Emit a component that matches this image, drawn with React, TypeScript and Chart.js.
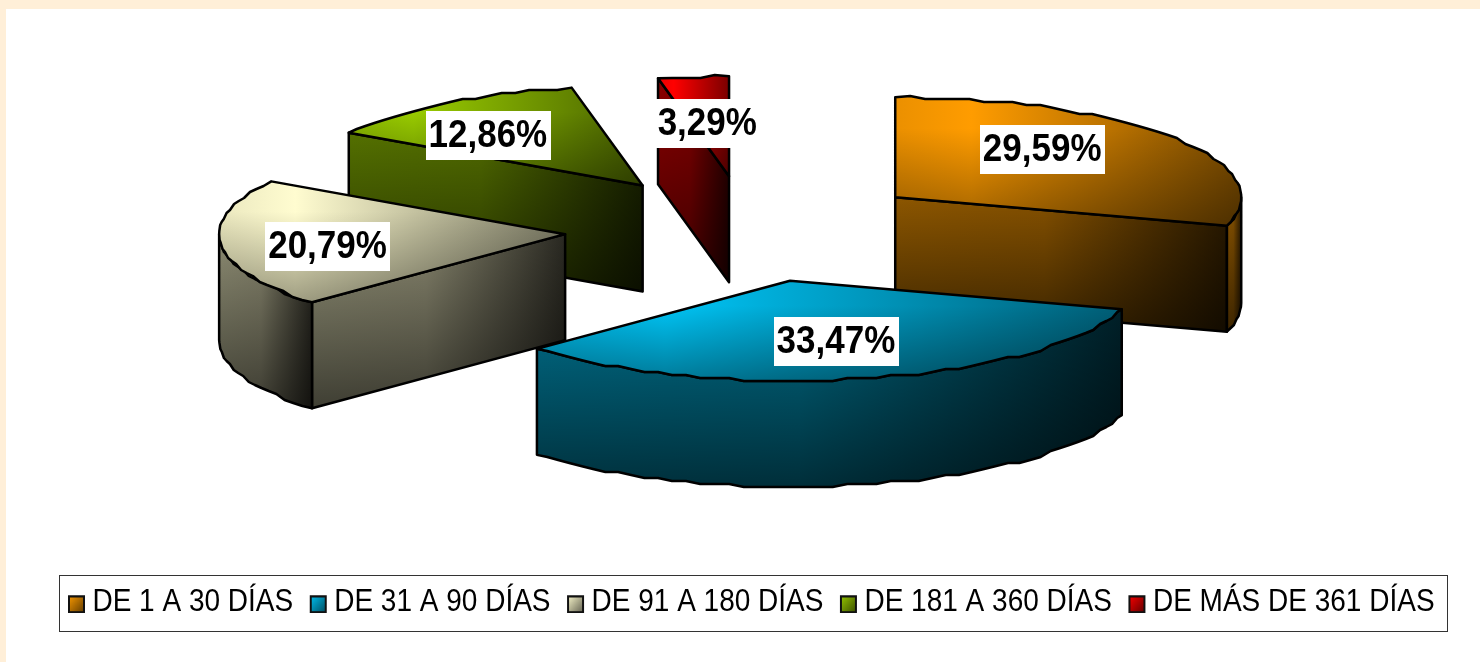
import React, { useEffect, useRef } from "react";
import { Chart, registerables } from "chart.js";

Chart.register(...registerables);

const categories = ["DE 1 A 30 DÍAS", "DE 31 A 90 DÍAS", "DE 91 A 180 DÍAS", "DE 181 A 360 DÍAS", "DE MÁS DE 361 DÍAS"];
const shares = [29.59, 33.47, 20.79, 12.86, 3.29];
const shareLabels = ["29,59%", "33,47%", "20,79%", "12,86%", "3,29%"];
const baseColors: number[][] = [
  [255, 156, 0],
  [0, 196, 245],
  [255, 252, 208],
  [153, 204, 0],
  [255, 0, 0],
];
// Where each label sits along its slice's middle radius (horizontal, vertical reach).
const labelReach: number[][] = [
  [0.53, 0.8],
  [0.58, 0.62],
  [0.69, 1.25],
  [0.78, 0.61],
  [0.61, 0.53],
];

const PIE_RADIUS = 346;
const SQUASH = 100 / 346;
const DEPTH = 106;
const EXPLODE = 0.531;
const PIE_CENTER_X = 748;
const PIE_CENTER_Y = 229;
const LEGEND_STRETCH = 1.14;
const LABEL_STRETCH = 1.1;
const FONT = '"Liberation Sans", Arial, sans-serif';

type Pt = { x: number; y: number };
type Stops = number[][];

const shade = (rgb: number[], f: number) =>
  `rgb(${rgb.map((c) => Math.round(c * f)).join(",")})`;

function tracePath(ctx: CanvasRenderingContext2D, pts: Pt[]) {
  ctx.beginPath();
  pts.forEach((p, i) => (i ? ctx.lineTo(p.x, p.y) : ctx.moveTo(p.x, p.y)));
  ctx.closePath();
}

function paintFace(
  ctx: CanvasRenderingContext2D,
  pts: Pt[],
  rgb: number[],
  hStops: Stops,
  vStops: Stops
) {
  const xs = pts.map((p) => p.x);
  const ys = pts.map((p) => p.y);
  const x0 = Math.min(...xs), x1 = Math.max(...xs);
  const y0 = Math.min(...ys), y1 = Math.max(...ys);
  const h = ctx.createLinearGradient(x0, 0, x1, 0);
  hStops.forEach(([pos, f]) => h.addColorStop(pos, shade(rgb, f)));
  tracePath(ctx, pts);
  ctx.fillStyle = h;
  ctx.fill();
  const v = ctx.createLinearGradient(0, y0, 0, y1);
  vStops.forEach(([pos, a]) => v.addColorStop(pos, `rgba(0,0,0,${a})`));
  ctx.fillStyle = v;
  ctx.fill();
  ctx.strokeStyle = "#000";
  ctx.lineWidth = 2.5;
  ctx.lineJoin = "round";
  ctx.stroke();
}

const TOP_H: Stops = [[0, 0.92], [0.22, 1], [1, 0.48]];
const TOP_V: Stops = [[0, 0], [0.25, 0], [1, 0.38]];
const WALL_H: Stops = [[0, 0.55], [0.45, 0.52], [1, 0.16]];
const WALL_V: Stops = [[0, 0], [1, 0.55]];

function arcPoints(cx: number, cy: number, r: number, a0: number, a1: number): Pt[] {
  // Slightly stepped outline: the reference's rim is visibly not a smooth curve.
  const pts: Pt[] = [];
  const step = (2.5 * Math.PI) / 180;
  const n = Math.max(1, Math.ceil((a1 - a0) / step));
  for (let i = 0; i <= n; i++) {
    const t = a0 + ((a1 - a0) * i) / n;
    const x = cx + r * Math.cos(t);
    const y = cy + r * SQUASH * Math.sin(t);
    if (i === 0 || i === n) pts.push({ x, y });
    else pts.push({ x, y: Math.round(y / 3) * 3 });
  }
  return pts;
}

const down = (pts: Pt[]) => pts.map((p) => ({ x: p.x, y: p.y + DEPTH }));

const pie3dPlugin = {
  id: "pie3d",
  beforeDraw(chart: any) {
    const { ctx, width, height } = chart;
    ctx.save();
    ctx.fillStyle = "#FFFFFF";
    ctx.fillRect(0, 0, width, height);
    ctx.fillStyle = "#FFEFD8";
    ctx.fillRect(0, 0, width, 9);
    ctx.fillRect(0, 0, 6, height);
    ctx.restore();
    const legend = chart.legend;
    if (legend && !legend.__stretched) {
      legend.__stretched = true;
      const draw = legend.draw.bind(legend);
      legend.draw = () => {
        const c = legend.ctx;
        const boxes = legend.legendHitBoxes;
        const first = boxes[0];
        const last = boxes[boxes.length - 1];
        const mid = first.top + first.height / 2;
        c.save();
        c.strokeStyle = "#333";
        c.lineWidth = 1;
        const left = Math.round(first.left) - 5.5;
        const right = Math.round(last.left + last.width) + 12.5;
        c.strokeRect(left, Math.round(mid) - 26.5, right - left, 56);
        c.translate(0, mid);
        c.scale(1, LEGEND_STRETCH);
        c.translate(0, -mid);
        draw();
        c.restore();
      };
    }
  },
  beforeDatasetDraw(chart: any, args: any) {
    const ctx: CanvasRenderingContext2D = chart.ctx;
    const arcs = chart.getDatasetMeta(args.index).data;
    const slices = arcs.map((arc: any, i: number) => {
      const a0 = arc.startAngle;
      const a1 = arc.endAngle;
      const mid = (a0 + a1) / 2;
      const r = arc.outerRadius;
      return {
        i, a0, a1, mid, r,
        cx: PIE_CENTER_X + Math.cos(mid) * r * EXPLODE,
        cy: PIE_CENTER_Y + Math.sin(mid) * r * EXPLODE * SQUASH,
      };
    });
    const ordered = [...slices].sort((p: any, q: any) => p.cy - q.cy);
    ctx.save();
    for (const s of ordered) {
      const rgb = baseColors[s.i];
      const c = { x: s.cx, y: s.cy };
      const rim = arcPoints(s.cx, s.cy, s.r, s.a0, s.a1);
      const pStart = rim[0];
      const pEnd = rim[rim.length - 1];
      // radial cut faces that look toward the viewer
      if (-Math.cos(s.a0) > 0.01) {
        const q = [c, pStart];
        paintFace(ctx, [...q, ...down(q).reverse()], rgb, WALL_H, WALL_V);
      }
      if (Math.cos(s.a1) > 0.01) {
        const q = [c, pEnd];
        paintFace(ctx, [...q, ...down(q).reverse()], rgb, WALL_H, WALL_V);
      }
      // outer rim: only its front half can be seen
      const f0 = Math.max(s.a0, 0);
      const f1 = Math.min(s.a1, Math.PI);
      if (f1 > f0) {
        const q = arcPoints(s.cx, s.cy, s.r, f0, f1);
        paintFace(ctx, [...q, ...down(q).reverse()], rgb, WALL_H, WALL_V);
      }
      paintFace(ctx, [c, ...rim], rgb, TOP_H, TOP_V);
    }
    // value labels
    const size = 35;
    ctx.font = `bold ${size}px ${FONT}`;
    ctx.textAlign = "center";
    ctx.textBaseline = "middle";
    for (const s of slices) {
      const [kx, ky] = labelReach[s.i];
      const x = s.cx + Math.cos(s.mid) * s.r * kx;
      const y = s.cy + Math.sin(s.mid) * s.r * SQUASH * ky;
      const text = shareLabels[s.i];
      const w = ctx.measureText(text).width + 6;
      const h = 49;
      ctx.fillStyle = "#FFFFFF";
      ctx.fillRect(Math.round(x - w / 2), Math.round(y - h / 2), Math.round(w), h);
      ctx.save();
      ctx.translate(x, y);
      ctx.scale(1, LABEL_STRETCH);
      ctx.fillStyle = "#000";
      ctx.fillText(text, 0, 1);
      ctx.restore();
    }
    ctx.restore();
    return false;
  },
};

function legendIcon(rgb: number[]) {
  const w = 34;
  const h = 20;
  const ix = 13;
  const iy = 4;
  const iw = 17;
  const ih = 16;
  const cv = document.createElement("canvas");
  cv.width = w;
  cv.height = h;
  const c = cv.getContext("2d") as CanvasRenderingContext2D;
  const g = c.createLinearGradient(ix, iy, ix + iw, iy + ih);
  g.addColorStop(0, shade(rgb, 1));
  g.addColorStop(1, shade(rgb, 0.35));
  c.fillStyle = g;
  c.fillRect(ix, iy, iw, ih);
  c.strokeStyle = "#111";
  c.lineWidth = 2;
  c.strokeRect(ix + 1, iy + 1, iw - 2, ih - 2);
  return cv;
}

export default function App() {
  const ref = useRef<HTMLCanvasElement | null>(null);
  useEffect(() => {
    if (!ref.current) return;
    const chart = new Chart(ref.current, {
      type: "pie",
      data: {
        labels: categories,
        datasets: [{ data: shares, backgroundColor: baseColors.map((c) => shade(c, 1)), borderWidth: 0 }],
      },
      plugins: [pie3dPlugin],
      options: {
        responsive: false,
        animation: false,
        radius: PIE_RADIUS,
        layout: { padding: { left: 20, right: 0, top: 0, bottom: 36 } },
        plugins: {
          tooltip: { enabled: false },
          legend: {
            position: "bottom",
            labels: {
              font: { family: FONT, size: 28 },
              color: "#000",
              usePointStyle: true,
              pointStyleWidth: 13,
              padding: 14,
              generateLabels: () =>
                categories.map((text, i) => ({
                  text,
                  fontColor: "#000",
                  pointStyle: legendIcon(baseColors[i]),
                  hidden: false,
                  index: i,
                  lineWidth: 0,
                })),
            },
          },
        },
      },
    } as any);
    return () => chart.destroy();
  }, []);
  return (
    <div style={{ position: "fixed", left: 0, top: 0, width: 1480, height: 662, overflow: "hidden" }}>
      <canvas ref={ref} width={1480} height={662} style={{ display: "block", width: 1480, height: 662 }} />
    </div>
  );
}
